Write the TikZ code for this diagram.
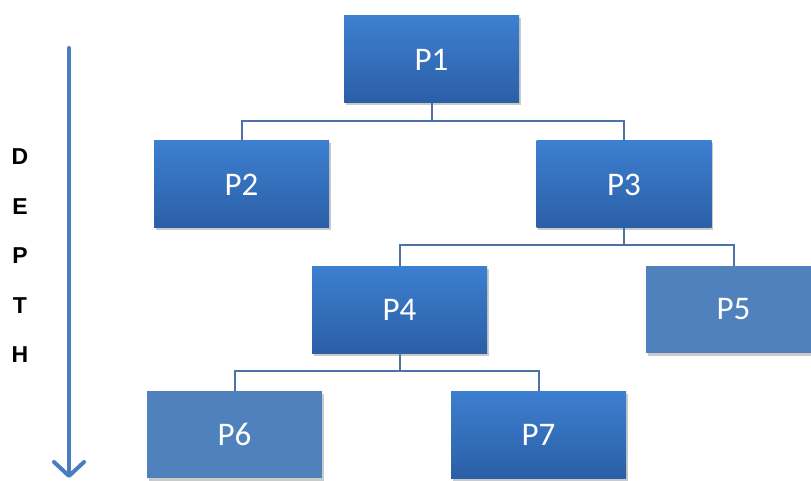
\documentclass[tikz,border=0pt]{standalone}
\usepackage{fontspec}
\setmainfont{Carlito}
\newfontfamily\labelfont{Liberation Sans}
\usetikzlibrary{arrows.meta,shadows}
\definecolor{boxtop}{HTML}{3D7FD0}
\definecolor{boxbot}{HTML}{2B5FA6}
\definecolor{boxflat}{HTML}{4F81BD}
\definecolor{linkcol}{HTML}{4D72A3}
\definecolor{arrowcol}{HTML}{4A7CC0}
\tikzset{
  procbox/.style={minimum width=175pt, minimum height=87pt, inner sep=0pt,
    text=white, font=\fontsize{33}{36}\selectfont,
    drop shadow={shadow xshift=1.5pt, shadow yshift=-2.5pt, opacity=0.35, fill=black!60}},
  gradbox/.style={procbox, top color=boxtop, bottom color=boxbot},
  flatbox/.style={procbox, fill=boxflat},
  link/.style={draw=linkcol, line width=2pt},
  depthletter/.style={font=\labelfont\bfseries\fontsize{23}{26}\selectfont, text=black}
}
\begin{document}
\begin{tikzpicture}[x=1pt,y=-1pt]
  \useasboundingbox (0,0) rectangle (811,481);

  % process tree
  \node[gradbox] (p1) at (431.5,59.5) {P1};
  \node[gradbox] (p2) at (241.5,184.5) {P2};
  \node[gradbox] (p3) at (624,184.5) {P3};
  \node[gradbox] (p4) at (399.5,309.5) {P4};
  \node[flatbox] (p5) at (733.5,309.5) {P5};
  \node[flatbox] (p6) at (234.5,434.5) {P6};
  \node[gradbox] (p7) at (538.5,434.5) {P7};

  % elbow connectors from parent to children
  \draw[link] (p1.south) -- ++(0,18) coordinate (j1);
  \draw[link] (p2.north) |- (j1) -| (p3.north);
  \draw[link] (p3.south) -- ++(0,17) coordinate (j3);
  \draw[link] (p4.north) |- (j3) -| (p5.north);
  \draw[link] (p4.south) -- ++(0,18) coordinate (j4);
  \draw[link] (p6.north) |- (j4) -| (p7.north);

  % depth arrow and label
  \coordinate (atop) at (69,48);
  \coordinate (abot) at (69,478);
  \draw[draw=arrowcol, line width=4pt, line cap=round,
        -{Straight Barb[length=14pt, width=30pt, line cap=round, line join=round]}]
        (atop) -- (abot);

  \node[depthletter] (d1) at (20,157) {D};
  \node[depthletter] (d2) at (20,206.5) {E};
  \node[depthletter] (d3) at (20,256) {P};
  \node[depthletter] (d4) at (20,305.5) {T};
  \node[depthletter] (d5) at (20,355) {H};
\end{tikzpicture}
\end{document}
